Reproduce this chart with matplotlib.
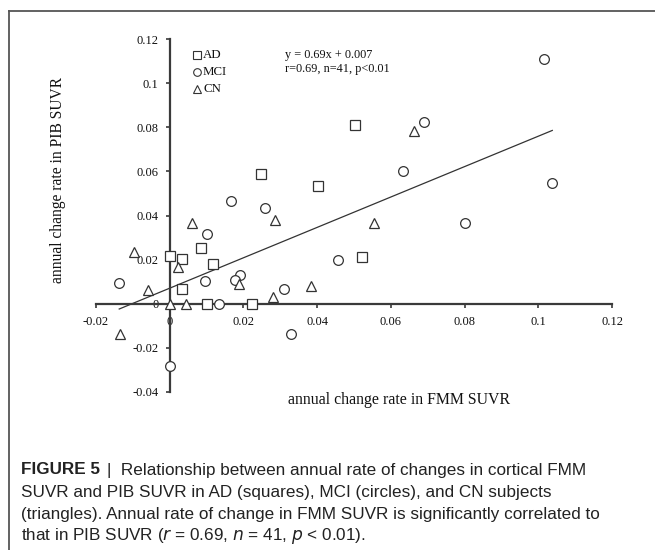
import matplotlib
matplotlib.use("Agg")
import matplotlib.pyplot as plt
from matplotlib.lines import Line2D
import numpy as np

# ---- data ----
ad_x = [0.0502, 0.0247, 0.0402, 0.0084, 0.0000, 0.0034, 0.0117, 0.0034, 0.0100, 0.0222, 0.0523]
ad_y = [0.0810, 0.0588, 0.0535, 0.0253, 0.0214, 0.0203, 0.0180, 0.0068, 0.0000, 0.0000, 0.0212]

mci_x = [0.1016, 0.0691, 0.0633, 0.1038, 0.0167, 0.0258, 0.0800, 0.0102, 0.0456,
         0.0190, 0.0178, 0.0096, -0.0137, 0.0309, 0.0135, 0.0330, 0.0000]
mci_y = [0.1109, 0.0824, 0.0601, 0.0547, 0.0468, 0.0432, 0.0366, 0.0314, 0.0197,
         0.0129, 0.0106, 0.0101, 0.0094, 0.0065, 0.0000, -0.0136, -0.0285]

cn_x = [0.0664, 0.0285, 0.0555, 0.0060, -0.0097, 0.0023, 0.0187, 0.0382, -0.0059,
        0.0281, 0.0000, 0.0044, -0.0136]
cn_y = [0.0785, 0.0379, 0.0366, 0.0364, 0.0233, 0.0168, 0.0091, 0.0082, 0.0060,
        0.0030, 0.0000, 0.0000, -0.0136]

slope = 0.69
intercept = 0.007

x_ticks = [-0.02, 0, 0.02, 0.04, 0.06, 0.08, 0.1, 0.12]
y_ticks = [-0.04, -0.02, 0, 0.02, 0.04, 0.06, 0.08, 0.1, 0.12]
x_tick_labels = ["-0.02", "0", "0.02", "0.04", "0.06", "0.08", "0.1", "0.12"]
y_tick_labels = ["-0.04", "-0.02", "0", "0.02", "0.04", "0.06", "0.08", "0.1", "0.12"]

xlabel = "annual change rate in FMM SUVR"
ylabel = "annual change rate in PIB SUVR"
eq_text = "y = 0.69x + 0.007\nr=0.69, n=41, p<0.01"
cap_head = "FIGURE 5"
cap_line1 = "|  Relationship between annual rate of changes in cortical FMM"
cap_line2 = "SUVR and PIB SUVR in AD (squares), MCI (circles), and CN subjects"
cap_line3 = "(triangles). Annual rate of change in FMM SUVR is significantly correlated to"
cap_line4 = r"that in PIB SUVR ($\it{r}$ = 0.69, $\it{n}$ = 41, $\it{p}$ < 0.01)."

# ---- figure ----
W, H = 655, 550
fig = plt.figure(figsize=(W / 100, H / 100), dpi=100)
serif = ["Liberation Serif", "DejaVu Serif"]

def px(x, y):
    return x / W, 1 - y / H

left, top = px(96, 39.3)
right, bottom = px(612, 391.7)
ax = fig.add_axes([left, bottom, right - left, top - bottom])
ax.set_xlim(-0.02, 0.12)
ax.set_ylim(-0.04, 0.12)

axis_col = "#3a3a3a"
mk_col = "#333333"
for s in ["top", "right"]:
    ax.spines[s].set_visible(False)
ax.spines["left"].set_position(("data", 0))
ax.spines["bottom"].set_position(("data", 0))
for s in ["left", "bottom"]:
    ax.spines[s].set_color(axis_col)
    ax.spines[s].set_linewidth(1.6)

ax.set_xticks(x_ticks)
ax.set_xticklabels(x_tick_labels, fontfamily=serif, fontsize=9)
ax.set_yticks(y_ticks)
ax.set_yticklabels(y_tick_labels, fontfamily=serif, fontsize=9)
ax.tick_params(axis="both", direction="out", length=3, width=1.2, color=axis_col,
               labelcolor="#111111")
ax.tick_params(axis="x", pad=6)
ax.tick_params(axis="y", pad=5)

# regression line across data range
all_x = np.array(ad_x + mci_x + cn_x)
lx = np.array([all_x.min(), all_x.max()])
ax.plot(lx, slope * lx + intercept, color="#333333", lw=0.9, zorder=2)

kw = dict(linestyle="none", markerfacecolor="white", markeredgecolor=mk_col,
          markeredgewidth=0.9, zorder=3, clip_on=False)
ax.plot(ad_x, ad_y, marker="s", markersize=6.5, **kw)
ax.plot(mci_x, mci_y, marker="o", markersize=7.0, **kw)
ax.plot(cn_x, cn_y, marker="^", markersize=7.2, **kw)

# legend (manual, as in the original)
leg = [("s", "AD", 55), ("o", "MCI", 71.7), ("^", "CN", 89.3)]
for m, lab, yy in leg:
    fx, fy = px(197, yy)
    fig.add_artist(Line2D([fx], [fy], marker=m, markersize=5.5 if m != "^" else 6,
                          markerfacecolor="white", markeredgecolor=mk_col,
                          markeredgewidth=0.8, linestyle="none"))
    tx, ty = px(203, yy)
    fig.text(tx, ty, lab, fontfamily=serif, fontsize=9.3, va="center", ha="left",
             color="#111111")

ex, ey = px(285, 49)
fig.text(ex, ey, eq_text, fontfamily=serif, fontsize=8.8, va="top", ha="left",
         color="#111111", linespacing=1.2)

# axis labels
fx, fy = px(288, 400)
fig.text(fx, fy, xlabel, fontfamily=serif, fontsize=11.4, ha="left", va="center",
         color="#111111")
fx, fy = px(58, 180)
fig.text(fx, fy, ylabel, fontfamily=serif, fontsize=11.2, ha="center", va="center",
         rotation=90, color="#111111")

# frame
frame_col = "#555555"
x0, y0 = px(9, 11)
fig.add_artist(Line2D([x0, 1], [y0, y0], color=frame_col, lw=1.3))
fig.add_artist(Line2D([x0, x0], [0, y0], color=frame_col, lw=1.3))

# caption
sans = ["Liberation Sans", "DejaVu Sans"]
cap_col = "#222222"
cfs = 12.3
cy = [470, 492, 514, 536]
x_c, _ = px(21, 0)
t1 = fig.text(x_c, 1 - cy[0] / H, cap_head, fontfamily=sans, fontsize=cfs,
              fontweight="bold", va="center", ha="left", color=cap_col)
fig.canvas.draw()
bb = t1.get_window_extent(renderer=fig.canvas.get_renderer())
x_next = (bb.x1 + 7) / W
fig.text(x_next, 1 - cy[0] / H, cap_line1, fontfamily=sans, fontsize=cfs,
         va="center", ha="left", color=cap_col)
fig.text(x_c, 1 - cy[1] / H, cap_line2, fontfamily=sans, fontsize=cfs,
         va="center", ha="left", color=cap_col)
fig.text(x_c, 1 - cy[2] / H, cap_line3, fontfamily=sans, fontsize=cfs,
         va="center", ha="left", color=cap_col)
fig.text(x_c, 1 - cy[3] / H, cap_line4, fontfamily=sans, fontsize=cfs,
         va="center", ha="left", color=cap_col)

fig.savefig("out.png", dpi=100)
